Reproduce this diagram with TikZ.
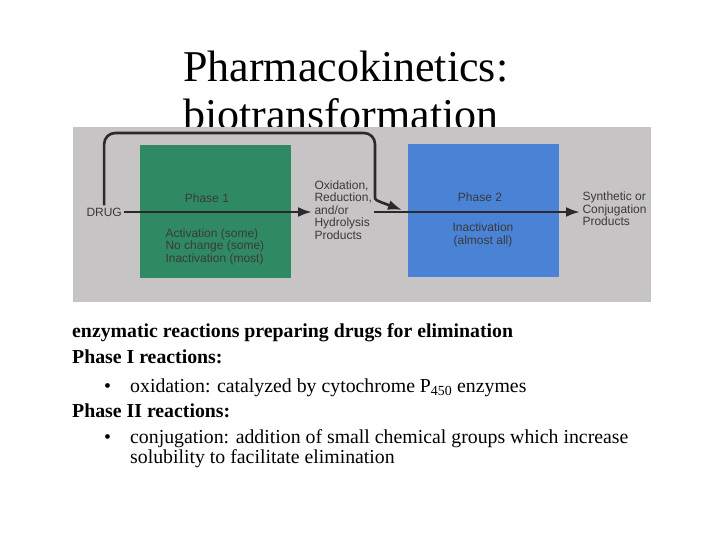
\documentclass[tikz,border=0pt]{standalone}
\usepackage{fontspec}
\setmainfont{Liberation Serif}
\newfontfamily\figfont{Liberation Sans}
\usetikzlibrary{positioning, arrows.meta}

\definecolor{photogray}{HTML}{C7C4C6}
\definecolor{phasegreen}{HTML}{2F8A63}
\definecolor{phaseblue}{HTML}{4A82D6}
\definecolor{flowink}{HTML}{2A2A2A}
\definecolor{labelink}{HTML}{3A3A3A}

\begin{document}
\begin{tikzpicture}[x = 1pt, y = -1pt, > = {Latex[length = 14pt, width = 10pt]},
	phasebox/.style = {minimum width = 151pt, minimum height = 133pt, inner sep = 0pt},
	figtext/.style = {font = \figfont\fontsize{12}{12.6}\selectfont, text = labelink, inner sep = 0pt, outer sep = 2.5pt},
	flow/.style = {flowink, line width = 2.6pt},
	slidebold/.style = {anchor = base west, inner sep = 0pt, font = \fontsize{19.8}{22}\selectfont\bfseries},
	slideplain/.style = {anchor = base west, inner sep = 0pt, font = \fontsize{19.8}{22}\selectfont}]

	\useasboundingbox [fill = white] (0, 0) rectangle (720, 540);

	% Title (lower line partly hidden by the figure)

	\node (title) [anchor = base west, inner sep = 0pt, align = left,
		font = \fontsize{44}{48}\selectfont] at (183, 130) {Pharmacokinetics:\\biotransformation};

	% Figure background + phase boxes

	\fill [photogray] (73, 127) rectangle (651, 302);
	\node (phase1) [phasebox, fill = phasegreen] at (215.5, 211.5) {};
	\node (phase2) [phasebox, fill = phaseblue] at (483, 210.5) {};

	% Figure labels

	\node (drug) [figtext, anchor = west] at (84, 212) {DRUG};
	\node (p1name) [figtext] at (207, 198) {Phase 1};
	\node (p1out) [figtext, anchor = north west, align = left] at (163, 226)
		{Activation (some)\\No change (some)\\Inactivation (most)};
	\node (products1) [figtext, anchor = west, align = left] at (312, 210)
		{Oxidation,\\Reduction,\\and/or\\Hydrolysis\\Products};
	\node (p2name) [figtext] at (480, 197) {Phase 2};
	\node (p2out) [figtext, align = center] at (483, 235) {Inactivation\\(almost all)};
	\node (products2) [figtext, anchor = west, align = left] at (580, 209)
		{Synthetic or\\Conjugation\\Products};

	% Figure arrows

	\coordinate (bend) at (375, 133);
	\coordinate (join) at (402, 210);
	\draw [flow, ->] (drug.east) -- (drug.east -| products1.west);
	\draw [flow, ->, rounded corners = 11pt] (drug.north) |- (bend) -- (375, 186)
		.. controls (375, 200) .. (join);
	\draw [flow, ->] (products1.east |- drug) -- (products2.west |- drug);

	% Slide text

	\node (intro) [slidebold] at (72, 337) {enzymatic reactions preparing drugs for elimination};
	\node (phaseI) [slidebold] at (72, 363) {Phase I reactions:};
	\node (bulletI) [slideplain] at (104, 392) {\textbullet};
	\node (oxid) [slideplain] at (130, 392) {oxidation: catalyzed by cytochrome P\textsubscript{450} enzymes};
	\node (phaseII) [slidebold] at (72, 417) {Phase II reactions:};
	\node (bulletII) [slideplain] at (104, 443) {\textbullet};
	\node (conj) [slideplain] at (130, 443)
		{conjugation: addition of small chemical groups which increase};
	\node (conjb) [slideplain] at (130, 463) {solubility to facilitate elimination};

\end{tikzpicture}
\end{document}
